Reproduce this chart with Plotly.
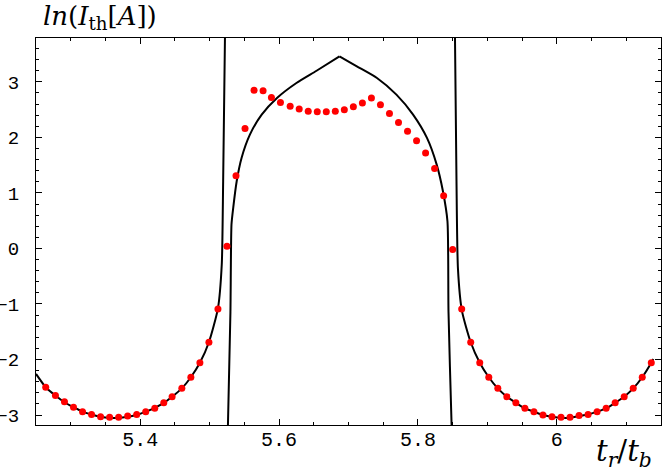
import plotly.graph_objects as go

# red measured points
dot_x = [5.264, 5.278, 5.291, 5.304, 5.317, 5.330, 5.343, 5.356, 5.369, 5.382,
         5.395, 5.408, 5.421, 5.434, 5.446, 5.460, 5.473, 5.486, 5.499, 5.512,
         5.525, 5.538, 5.551, 5.564, 5.577, 5.589, 5.602, 5.616, 5.629, 5.642,
         5.655, 5.668, 5.681, 5.694, 5.707, 5.720, 5.733, 5.746, 5.759, 5.772,
         5.785, 5.798, 5.811, 5.824, 5.837, 5.850, 5.863, 5.876, 5.889, 5.902,
         5.915, 5.928, 5.941, 5.954, 5.967, 5.980, 5.993, 6.006, 6.019, 6.032,
         6.045, 6.058, 6.071, 6.084, 6.097, 6.110, 6.123, 6.136]
dot_y = [-2.50, -2.65, -2.76, -2.86, -2.94, -2.99, -3.03, -3.04, -3.04, -3.02,
         -2.99, -2.94, -2.88, -2.78, -2.67, -2.52, -2.32, -2.06, -1.69, -1.09,
         0.04, 1.31, 2.16, 2.85, 2.84, 2.72, 2.63, 2.56, 2.51, 2.47,
         2.46, 2.46, 2.47, 2.50, 2.55, 2.62, 2.71, 2.59, 2.43, 2.27,
         2.11, 1.94, 1.72, 1.44, 0.95, -0.02, -1.09, -1.69, -2.06, -2.32,
         -2.52, -2.67, -2.78, -2.88, -2.94, -3.00, -3.03, -3.04, -3.04, -3.01,
         -2.99, -2.94, -2.88, -2.78, -2.67, -2.52, -2.32, -2.06]

# theory curve: left branch, arch (rising / falling halves meet at the cusp), right branch
left_x = [5.250, 5.264, 5.278, 5.291, 5.304, 5.317, 5.330, 5.343, 5.356, 5.369,
          5.382, 5.395, 5.408, 5.421, 5.434, 5.446, 5.460, 5.473, 5.486, 5.499,
          5.512, 5.5175, 5.5195, 5.5225]
left_y = [-2.26, -2.50, -2.65, -2.77, -2.86, -2.94, -2.99, -3.03, -3.05, -3.05,
          -3.03, -3.00, -2.94, -2.87, -2.78, -2.67, -2.52, -2.32, -2.06, -1.69,
          -1.08, -0.29, 1.21, 4.2]
rise_x = [5.5260, 5.5300, 5.5315, 5.5340, 5.539, 5.546, 5.558, 5.575, 5.597, 5.625,
          5.654, 5.687]
rise_y = [-3.4, -1.14, 0.43, 0.73, 1.21, 1.63, 2.05, 2.41, 2.71, 2.98,
          3.20, 3.46]
fall_x = [5.687, 5.712, 5.741, 5.769, 5.793, 5.813, 5.827, 5.836, 5.8425,
          5.8440, 5.8485, 5.8490]
fall_y = [3.46, 3.28, 3.07, 2.77, 2.41, 1.99, 1.51, 1.03, 0.49,
          -1.14, -3.2, -3.4]
right_x = [5.8530, 5.8555, 5.8576, 5.8633, 5.876, 5.889, 5.902, 5.915, 5.928, 5.941,
           5.954, 5.967, 5.980, 5.993, 6.006, 6.019, 6.032, 6.045, 6.058, 6.071,
           6.084, 6.097, 6.110, 6.123, 6.136, 6.139]
right_y = [4.2, 1.21, -0.36, -1.12, -1.69, -2.06, -2.32, -2.52, -2.67, -2.78,
           -2.88, -2.94, -3.00, -3.03, -3.05, -3.05, -3.02, -2.99, -2.94, -2.88,
           -2.78, -2.67, -2.52, -2.32, -2.06, -1.99]

fig = go.Figure()
for bx, by in [(left_x, left_y), (rise_x, rise_y), (fall_x, fall_y), (right_x, right_y)]:
    fig.add_trace(go.Scatter(x=bx, y=by, mode='lines', showlegend=False,
                             line=dict(color='black', width=2, shape='spline', smoothing=0.6)))
fig.add_trace(go.Scatter(x=dot_x, y=dot_y, mode='markers',
                         marker=dict(color='#ff0000', size=7), showlegend=False))

fig.update_xaxes(range=[5.25, 6.15], tickvals=[5.4, 5.6, 5.8, 6.0], ticktext=['5.4', '5.6', '5.8', '6'],
                 ticks='inside', ticklen=6, tickcolor='black', showline=True, linecolor='black',
                 linewidth=1.3, mirror='allticks', showgrid=False, zeroline=False, automargin=False,
                 tickfont=dict(family='Liberation Mono', size=20, color='black'), ticklabelstandoff=-4,
                 minor=dict(dtick=0.05, tick0=5.4, ticks='inside', ticklen=3, tickcolor='black'))
fig.update_yaxes(range=[-3.18, 3.79], tickvals=[-3, -2, -1, 0, 1, 2, 3],
                 ticktext=['\u22123', '\u22122', '\u22121', '0', '1', '2', '3'],
                 ticks='inside', ticklen=6, tickcolor='black', showline=True, linecolor='black',
                 linewidth=1.3, mirror='allticks', showgrid=False, zeroline=False, automargin=False,
                 tickfont=dict(family='Liberation Mono', size=19, color='black'), ticklabelstandoff=12,
                 minor=dict(dtick=0.2, tick0=0, ticks='inside', ticklen=3, tickcolor='black'))

fig.add_annotation(text='<i>ln</i>(<i>I</i><sub>th</sub>[<i>A</i>])', xref='paper', yref='paper',
                   x=0.1024, y=1.052, xanchor='center', yanchor='middle', showarrow=False,
                   font=dict(family='DejaVu Serif', size=26, color='black'))
fig.add_annotation(text='<i>t</i><sub><i>r</i></sub>/<i>t</i><sub><i>b</i></sub>', xref='paper', yref='paper',
                   x=0.94, y=-0.073, xanchor='center', yanchor='middle', showarrow=False,
                   font=dict(family='DejaVu Serif', size=29, color='black'))

fig.update_layout(width=664, height=472, margin=dict(l=36, r=3, t=38, b=47),
                  plot_bgcolor='white', paper_bgcolor='white')
# drop the page's default body margin so the figure sits at the window's corner
fig.write_html("out.html", config={'displayModeBar': False},
               post_script="document.body.style.margin='0';")
